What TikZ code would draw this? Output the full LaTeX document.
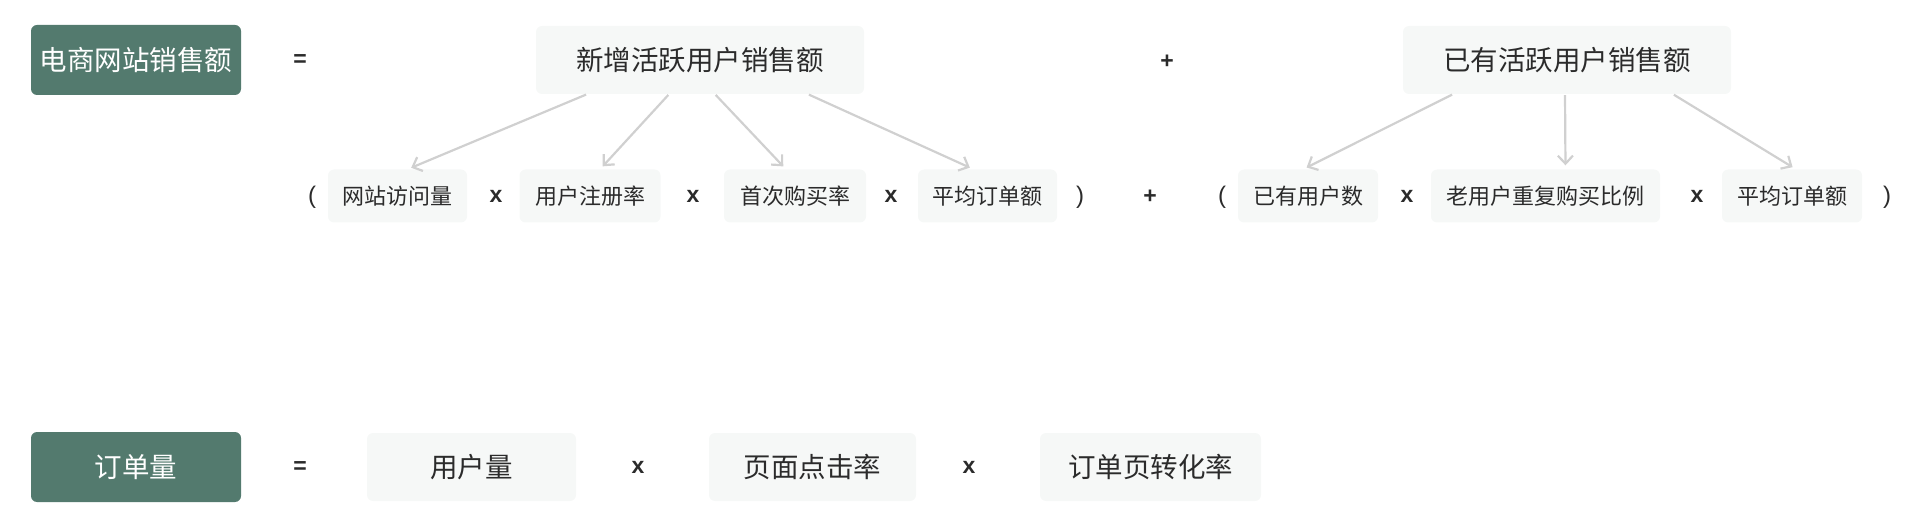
\documentclass[tikz,border=0pt]{standalone}
\usepackage{fontspec}
\setmainfont{Noto Sans CJK SC}
\newfontfamily\opfont{Liberation Sans}
\usepackage{xcolor}
\usetikzlibrary{arrows.meta}
\definecolor{boxgreen}{HTML}{537A6E}
\definecolor{boxgray}{HTML}{F6F8F7}
\definecolor{textdark}{HTML}{2B2B2B}
\definecolor{arrowgray}{HTML}{D0D0D0}

\begin{document}
\begin{tikzpicture}[
    x=1pt, y=-1pt,                     % pixel units, y grows downwards
    >={Straight Barb[length=8pt,width=15pt]}, % arrow tip style
    total/.style={fill=boxgreen, text=white, rounded corners=6pt,
      minimum height=70pt, inner sep=0pt, font=\fontsize{27.5}{27.5}\selectfont},
    part/.style={fill=boxgray, text=textdark, rounded corners=6pt,
      minimum height=68pt, inner sep=0pt, font=\fontsize{27.5}{27.5}\selectfont},
    factor/.style={fill=boxgray, text=textdark, rounded corners=6pt,
      minimum height=53pt, inner sep=0pt, font=\fontsize{22}{22}\selectfont},
    op/.style={text=textdark, inner sep=0pt, font=\opfont\bfseries\fontsize{23}{23}\selectfont},
    paren/.style={text=textdark, inner sep=0pt, font=\opfont\fontsize{24}{24}\selectfont},
    link/.style={->, draw=arrowgray, line width=2.2pt, shorten >=4pt, shorten <=1pt}
  ]
  \useasboundingbox (0,0) rectangle (1920,529);

  % first row: sales
  \node[total, minimum width=210pt] (sales) at (136,60) {电商网站销售额};
  \node[op] (eqa) at (300,61) {=};
  \node[part, minimum width=328pt] (newsales) at (700,60) {新增活跃用户销售额};
  \node[op] (plusa) at (1167,62) {+};
  \node[part, minimum width=328pt] (oldsales) at (1567,60) {已有活跃用户销售额};

  % second row: factors
  \node[paren] (lpa) at (312,197) {(};
  \node[factor, minimum width=139pt] (visits) at (397.5,196) {网站访问量};
  \node[op] (xa) at (496,196) {x};
  \node[factor, minimum width=141pt] (signup) at (590,196) {用户注册率};
  \node[op] (xb) at (693,196) {x};
  \node[factor, minimum width=142pt] (firstbuy) at (795,196) {首次购买率};
  \node[op] (xc) at (891,196) {x};
  \node[factor, minimum width=139pt] (avgnew) at (987.5,196) {平均订单额};
  \node[paren] (rpa) at (1080,197) {)};
  \node[op] (plusb) at (1150,197) {+};
  \node[paren] (lpb) at (1222,197) {(};
  \node[factor, minimum width=140pt] (users) at (1308,196) {已有用户数};
  \node[op] (xd) at (1407,196) {x};
  \node[factor, minimum width=229pt] (repeat) at (1545.5,196) {老用户重复购买比例};
  \node[op] (xe) at (1697,196) {x};
  \node[factor, minimum width=140pt] (avgold) at (1792,196) {平均订单额};
  \node[paren] (rpb) at (1887,197) {)};

  \draw[link] ([xshift=-113pt]newsales.south) -- ([xshift=10pt]visits.north);
  \draw[link] ([xshift=-31pt]newsales.south) -- ([xshift=10pt]signup.north);
  \draw[link] ([xshift=15pt]newsales.south) -- ([xshift=-9pt]firstbuy.north);
  \draw[link] ([xshift=108pt]newsales.south) -- ([xshift=-14pt]avgnew.north);
  \draw[link] ([xshift=-114pt]oldsales.south) -- ([xshift=-5pt]users.north);
  \draw[link] ([xshift=-2pt]oldsales.south) -- ([xshift=20pt]repeat.north);
  \draw[link] ([xshift=106pt]oldsales.south) -- ([xshift=4pt]avgold.north);

  % third row: orders
  \node[total, minimum width=210pt] (orders) at (136,467) {订单量};
  \node[op] (eqb) at (300,468) {=};
  \node[part, minimum width=209pt] (usercount) at (471.5,467) {用户量};
  \node[op] (xf) at (638,467) {x};
  \node[part, minimum width=207pt] (clickrate) at (812.5,467) {页面点击率};
  \node[op] (xg) at (969,467) {x};
  \node[part, minimum width=221pt] (convrate) at (1150.5,467) {订单页转化率};
\end{tikzpicture}
\end{document}
